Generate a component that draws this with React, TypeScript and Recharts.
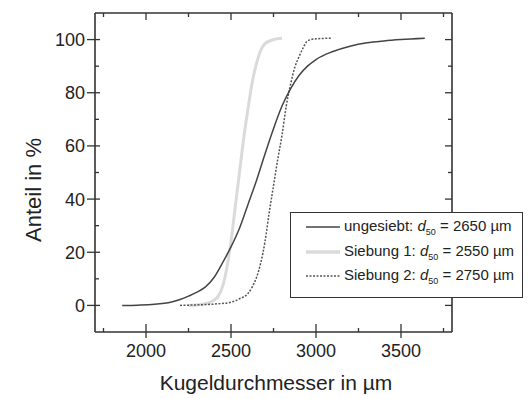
import React from "react";
import { LineChart, Line, XAxis, YAxis, Legend, Label } from "recharts";

// ungesiebt
const unX = [1860, 1950, 2050, 2150, 2200, 2250, 2300, 2350, 2400, 2450, 2500, 2550, 2600, 2650, 2700, 2750, 2800, 2850, 2900, 2950, 3000, 3100, 3200, 3300, 3400, 3500, 3640];
const unY = [0, 0.1, 0.4, 1.3, 2.2, 3.5, 5, 7, 10.5, 16, 22, 29, 38, 47, 57, 66.5, 75, 81.5, 86.5, 90, 92.5, 95.5, 97.5, 98.8, 99.5, 100, 100.5];
// Siebung 1
const s1X = [2250, 2300, 2350, 2400, 2425, 2450, 2475, 2500, 2525, 2550, 2575, 2600, 2625, 2650, 2675, 2700, 2750, 2800];
const s1Y = [0, 0.2, 0.6, 2, 3.5, 7, 14, 24, 37, 50, 63, 74, 84, 91, 96, 98.5, 100, 100.5];
// Siebung 2
const s2X = [2200, 2300, 2400, 2500, 2550, 2600, 2625, 2650, 2675, 2700, 2725, 2750, 2775, 2800, 2825, 2850, 2875, 2900, 2925, 2950, 3000, 3090];
const s2Y = [0, 0.2, 0.5, 1.2, 2.5, 4.5, 7, 10.5, 16, 24, 35, 45, 55, 64, 75, 83, 89.5, 93.5, 97, 99.5, 100.3, 100.5];

const xTicks = [1750, 2000, 2250, 2500, 2750, 3000, 3250, 3500, 3750];
const yTicks = [0, 10, 20, 30, 40, 50, 60, 70, 80, 90, 100];

const legendItems = [
  { name: "ungesiebt:", d50: "2650" },
  { name: "Siebung 1:", d50: "2550" },
  { name: "Siebung 2:", d50: "2750" },
];

const toData = (xs: number[], ys: number[]) => xs.map((x, i) => ({ x, y: ys[i] }));
const unData = toData(unX, unY);
const s1Data = toData(s1X, s1Y);
const s2Data = toData(s2X, s2Y);

const FONT = "'Liberation Sans', Arial, sans-serif";
const AX = "#333";
const TXT = "#222";
const LIGHT = "#dadada";

const XTickBottom = (props: any) => {
  const { x, y, payload } = props;
  const major = payload.value % 500 === 0;
  return (
    <g>
      <line x1={x} x2={x} y1={major ? y - 8 : y - 4} y2={major ? y + 6 : y} stroke={AX} strokeWidth={1.3} />
      {major && (
        <text x={x} y={y + 25} textAnchor="middle" fontSize={18} fill={TXT} fontFamily={FONT}>
          {payload.value}
        </text>
      )}
    </g>
  );
};

const XTickTop = (props: any) => {
  const { x, y, payload } = props;
  const major = payload.value % 500 === 0;
  return <line x1={x} x2={x} y1={y} y2={major ? y + 7 : y + 4} stroke={AX} strokeWidth={1.3} />;
};

const YTickLeft = (props: any) => {
  const { x, y, payload } = props;
  const major = payload.value % 20 === 0;
  return (
    <g>
      <line x1={major ? x - 8 : x} x2={major ? x + 5 : x + 4} y1={y} y2={y} stroke={AX} strokeWidth={1.3} />
      {major && (
        <text x={x - 10} y={y + 6.5} textAnchor="end" fontSize={18} fill={TXT} fontFamily={FONT}>
          {payload.value}
        </text>
      )}
    </g>
  );
};

const YTickRight = (props: any) => {
  const { x, y, payload } = props;
  const major = payload.value % 20 === 0;
  return <line x1={major ? x - 7 : x - 4} x2={x} y1={y} y2={y} stroke={AX} strokeWidth={1.3} />;
};

const LegendBox = () => (
  <div
    style={{
      position: "relative",
      width: 233,
      height: 86,
      border: `1.5px solid ${AX}`,
      background: "#fff",
      boxSizing: "border-box",
      fontFamily: FONT,
      fontSize: 15,
      color: TXT,
    }}
  >
    {legendItems.map((it, i) => (
      <div key={i} style={{ position: "absolute", left: 15, top: 4 + i * 24.5, height: 20, display: "flex", alignItems: "center", whiteSpace: "nowrap" }}>
        <svg width={34} height={8} style={{ marginRight: 4 }}>
          {i === 0 && <line x1={0} x2={34} y1={4} y2={4} stroke="#444" strokeWidth={1.4} />}
          {i === 1 && <line x1={0} x2={34} y1={4} y2={4} stroke={LIGHT} strokeWidth={3.5} />}
          {i === 2 && <line x1={0} x2={34} y1={4} y2={4} stroke="#555" strokeWidth={1.3} strokeDasharray="2 1.5" />}
        </svg>
        <span>
          {it.name} <i>d</i>
          <sub style={{ fontSize: 9 }}>50</sub> = {it.d50} µm
        </span>
      </div>
    ))}
  </div>
);

export default function App() {
  return (
    <div style={{ position: "absolute", left: 0, top: 0, width: 528, height: 399, background: "#fff" }}>
      <LineChart width={528} height={399} margin={{ top: 12, right: 75, bottom: 0, left: 0 }}>
        <XAxis
          dataKey="x"
          type="number"
          domain={[1700, 3800]}
          allowDataOverflow
          ticks={xTicks}
          interval={0}
          height={67}
          tickSize={0}
          tickMargin={0}
          tickLine={false}
          tick={<XTickBottom />}
          axisLine={{ stroke: AX, strokeWidth: 1.6 }}
        >
          <Label
            content={() => (
              <text x={276} y={390} textAnchor="middle" fontSize={21} fill={TXT} fontFamily={FONT}>
                Kugeldurchmesser in µm
              </text>
            )}
          />
        </XAxis>
        <XAxis
          xAxisId="top"
          orientation="top"
          dataKey="x"
          type="number"
          domain={[1700, 3800]}
          allowDataOverflow
          ticks={xTicks}
          interval={0}
          height={1}
          tickSize={0}
          tickMargin={0}
          tickLine={false}
          tick={<XTickTop />}
          axisLine={{ stroke: AX, strokeWidth: 1.6 }}
        />
        <YAxis
          type="number"
          domain={[-10, 110]}
          allowDataOverflow
          ticks={yTicks}
          interval={0}
          width={95}
          tickSize={0}
          tickMargin={0}
          tickLine={false}
          tick={<YTickLeft />}
          axisLine={{ stroke: AX, strokeWidth: 1.6 }}
        >
          <Label
            content={() => (
              <text
                x={41}
                y={190}
                transform="rotate(-90 41 190)"
                textAnchor="middle"
                fontSize={22}
                fill={TXT}
                fontFamily={FONT}
              >
                Anteil in %
              </text>
            )}
          />
        </YAxis>
        <YAxis
          yAxisId="right"
          orientation="right"
          type="number"
          domain={[-10, 110]}
          allowDataOverflow
          ticks={yTicks}
          interval={0}
          width={1}
          tickSize={0}
          tickMargin={0}
          tickLine={false}
          tick={<YTickRight />}
          axisLine={{ stroke: AX, strokeWidth: 1.6 }}
        />
        <Line data={s1Data} dataKey="y" type="monotone" stroke={LIGHT} strokeWidth={3} dot={false} isAnimationActive={false} />
        <Line data={s2Data} dataKey="y" type="monotone" stroke="#555" strokeWidth={1.5} strokeDasharray="2 1.5" dot={false} isAnimationActive={false} />
        <Line data={unData} dataKey="y" type="monotone" stroke="#444" strokeWidth={1.5} dot={false} isAnimationActive={false} />
        <Legend
          layout="horizontal"
          verticalAlign="middle"
          align="center"
          content={() => <LegendBox />}
          wrapperStyle={{ left: 290, top: 212, width: 233, height: 86 }}
        />
      </LineChart>
    </div>
  );
}
